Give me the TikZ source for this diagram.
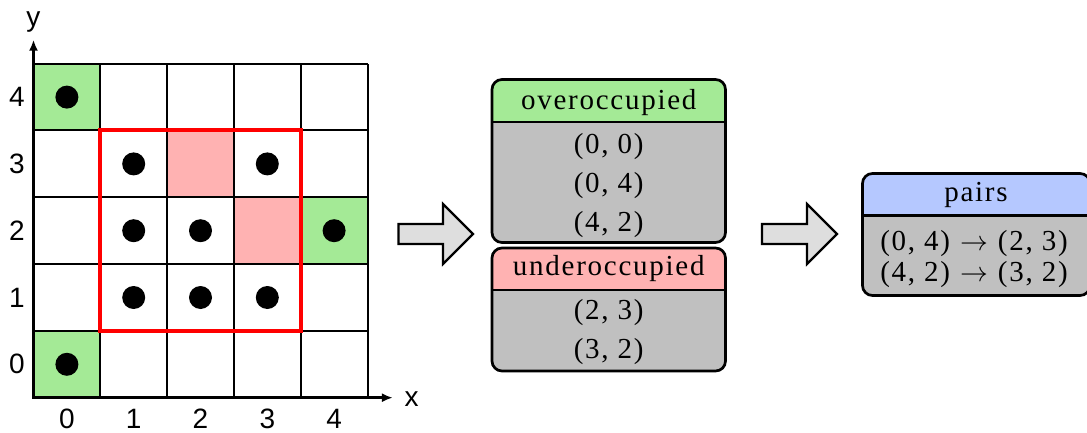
\documentclass[tikz,border=0pt]{standalone}
\usepackage{fontspec}
\usepackage{graphicx}
\newfontfamily\axfont{Liberation Sans}
\newfontfamily\bxf[LetterSpace=6]{Liberation Serif}
\usetikzlibrary{arrows.meta}
\definecolor{hgreen}{RGB}{164,234,150}
\definecolor{hpink}{RGB}{255,178,178}
\definecolor{hblue}{RGB}{181,200,255}
\definecolor{bodygray}{RGB}{192,192,192}
\definecolor{arrowgray}{RGB}{222,222,222}
\newcommand\bxfont{\bxf\fontsize{29}{32}\selectfont}
\newcommand\rarr{\hspace{10pt}\scalebox{1.12}{$\rightarrow$}\hspace{10pt}}
\newcommand\tablebox[6]{%
  \fill[bodygray,rounded corners=10pt] (#1,#2) rectangle (#3,#4);
  \begin{scope}\clip[rounded corners=10pt] (#1,#2) rectangle (#3,#4);
  \fill[#6] (#1,#5) rectangle (#3,#4);\end{scope}
  \draw[line width=2.7pt] (#1,#5) -- (#3,#5);
  \draw[line width=2.7pt, rounded corners=10pt] (#1,#2) rectangle (#3,#4);}
\tikzset{
  ax/.style={font=\axfont\fontsize{28}{30}\selectfont, inner sep=0pt},
  bxt/.style={font=\bxfont, text height=20pt, text depth=0.4pt, inner sep=0pt},
  blockarrow/.style={fill=arrowgray, draw=black, line width=2.2pt, line join=miter},
  gridline/.style={line width=2pt},
  axisline/.style={line width=2.7pt, {Latex[length=11pt,width=9pt]}-{Latex[length=11pt,width=9pt]}},
}
\begin{document}
\begin{tikzpicture}[x=1pt,y=1pt]
\useasboundingbox (0,0) rectangle (1087,432);
% grid
\begin{scope}[shift={(33.5pt,34.3pt)}, x=66.8pt, y=66.8pt]
  \fill[hgreen] (0,4) rectangle (1,5) (0,0) rectangle (1,1) (4,2) rectangle (5,3);
  \fill[hpink] (2,3) rectangle (3,4) (3,2) rectangle (4,3);
  \foreach \k in {0,...,5}{
    \draw[gridline] (\k,0) -- (\k,5);
    \draw[gridline] (0,\k) -- (5,\k);
  }
  \draw[red, line width=4pt] (1,1) rectangle (4,4);
  \foreach \a/\b in {0/4,1/3,3/3,1/2,2/2,4/2,1/1,2/1,3/1,0/0}
    \fill (\a+.5,\b+.5) circle[radius=11.5pt];
  \draw[axisline] (0,5.36) -- (0,0) -- (5.38,0);
  \foreach \i in {0,...,4}{
    \node[ax] (yl\i) at (-0.25,\i+.5) {\i};
    \node[ax] (xl\i) at (\i+.5,-0.31) {\i};
  }
  \node[ax] (ylab) at (0,5.62) {y};
  \node[ax] (xlab) at (5.66,-0.015) {x};
\end{scope}
% block arrows
\draw[blockarrow] (398.5,208) -- (443,208) -- (443,228) -- (473,198) -- (443,168) -- (443,188) -- (398.5,188) -- cycle;
\draw[blockarrow] (762,208) -- (807,208) -- (807,228) -- (837,198) -- (807,168) -- (807,188) -- (762,188) -- cycle;
% tables
\tablebox{492}{189.5}{725.5}{352.5}{310}{hgreen}
\tablebox{492}{61}{725.5}{184}{142}{hpink}
\tablebox{862.5}{136.5}{1090}{258.5}{216.5}{hblue}
\node[bxt] (over) at (608.75,332.8) {overoccupied};
\node[bxt] (o1) at (608.75,288) {(0, 0)};
\node[bxt] (o2) at (608.75,249) {(0, 4)};
\node[bxt] (o3) at (608.75,210.3) {(4, 2)};
\node[bxt] (under) at (608.75,166.8) {underoccupied};
\node[bxt] (u1) at (608.75,122) {(2, 3)};
\node[bxt] (u2) at (608.75,83) {(3, 2)};
\node[bxt] (pairs) at (976,240.1) {pairs};
\node[bxt] (p1) at (974,191) {(0, 4)\rarr(2, 3)};
\node[bxt] (p2) at (974,160) {(4, 2)\rarr(3, 2)};
\end{tikzpicture}
\end{document}
